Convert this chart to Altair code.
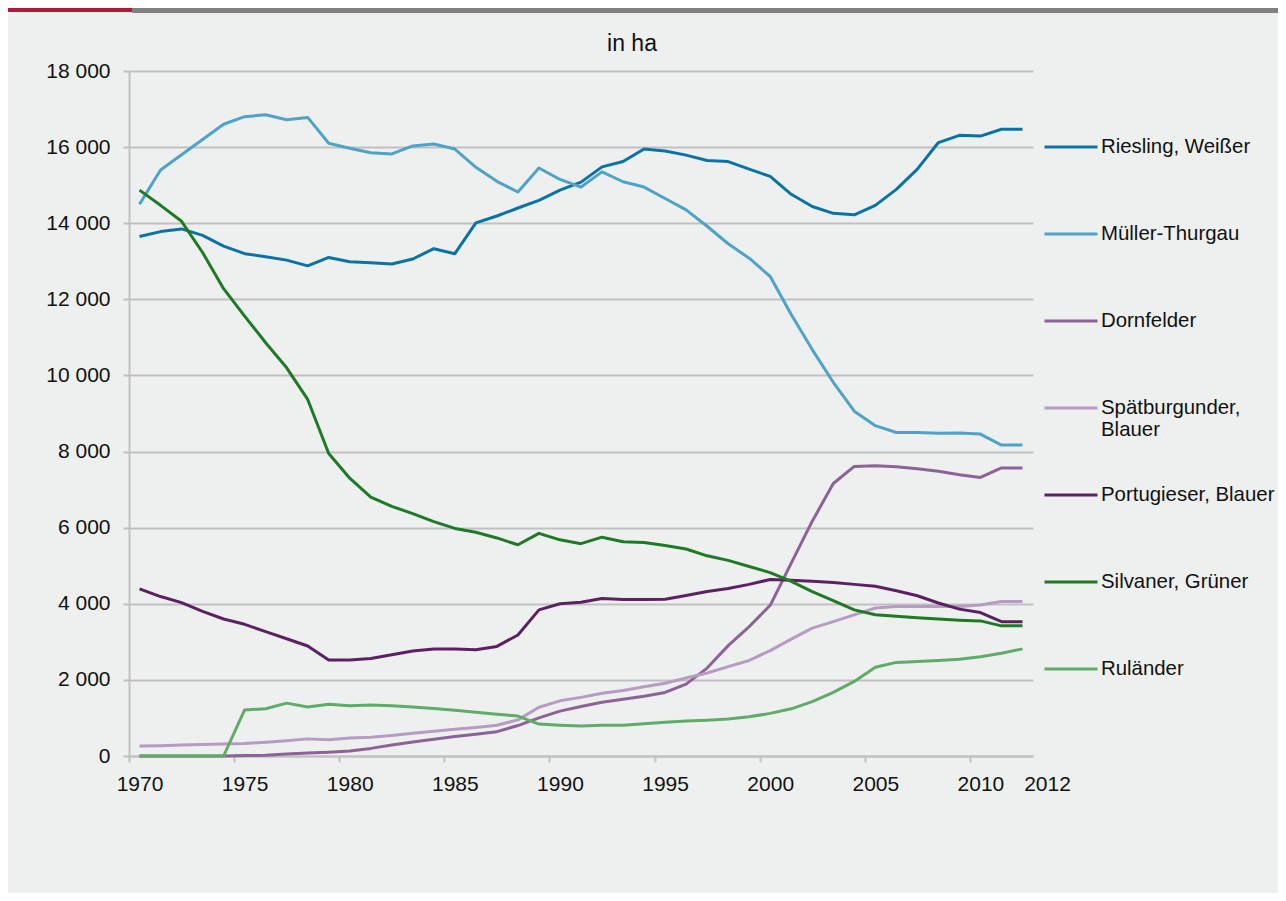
import altair as alt
import pandas as pd

years = list(range(1970, 2013))

series_names = [
    "Riesling, Weißer",
    "Müller-Thurgau",
    "Dornfelder",
    "Spätburgunder, Blauer",
    "Portugieser, Blauer",
    "Silvaner, Grüner",
    "Ruländer",
]
series_colors = ["#0a73a5", "#4fa3c7", "#8c6299", "#b89bc2", "#5b2163", "#1e7a25", "#5fab67"]

riesling = [13650, 13780, 13850, 13680, 13400, 13200, 13120, 13030, 12880, 13100,
            12990, 12960, 12930, 13060, 13330, 13200, 14010, 14190, 14400, 14600,
            14870, 15080, 15480, 15620, 15950, 15900, 15790, 15650, 15620, 15420,
            15230, 14760, 14440, 14260, 14220, 14470, 14890, 15420, 16120, 16310,
            16290, 16470, 16470]
muller = [14500, 15400, 15800, 16200, 16600, 16800, 16850, 16720, 16780, 16100,
          15970, 15850, 15820, 16030, 16080, 15950, 15470, 15100, 14820, 15450,
          15150, 14950, 15350, 15090, 14950, 14650, 14350, 13920, 13460, 13080,
          12600, 11600, 10680, 9820, 9060, 8680, 8500, 8500, 8480, 8490,
          8460, 8170, 8170]
dornfelder = [0, 0, 0, 0, 0, 10, 20, 50, 80, 100,
              130, 200, 290, 370, 440, 510, 570, 640, 800, 1000,
              1180, 1300, 1410, 1490, 1570, 1670, 1890, 2310, 2900, 3400,
              3960, 5070, 6170, 7160, 7610, 7630, 7600, 7550, 7480, 7390,
              7320, 7570, 7570]
spaetburgunder = [260, 270, 290, 300, 315, 330, 360, 400, 450, 430,
                  470, 490, 540, 600, 650, 700, 750, 810, 950, 1280,
                  1450, 1540, 1650, 1720, 1820, 1910, 2050, 2180, 2350, 2510,
                  2770, 3070, 3360, 3530, 3710, 3890, 3930, 3930, 3930, 3930,
                  3970, 4060, 4060]
portugieser = [4390, 4190, 4030, 3800, 3600, 3460, 3270, 3080, 2890, 2520,
               2520, 2560, 2660, 2760, 2810, 2810, 2790, 2880, 3180, 3840,
               4000, 4040, 4140, 4110, 4110, 4120, 4220, 4320, 4400, 4510,
               4640, 4620, 4590, 4560, 4510, 4460, 4340, 4210, 4020, 3860,
               3770, 3530, 3530]
silvaner = [14870, 14470, 14050, 13230, 12280, 11560, 10860, 10200, 9370, 7950,
            7300, 6800, 6560, 6370, 6160, 5980, 5880, 5730, 5550, 5850,
            5680, 5580, 5750, 5630, 5610, 5530, 5440, 5260, 5140, 4980,
            4820, 4590, 4320, 4080, 3840, 3710, 3670, 3630, 3600, 3570,
            3550, 3420, 3420]
rulaender = [0, 0, 0, 0, 0, 1210, 1240, 1390, 1290, 1360,
             1320, 1340, 1320, 1290, 1250, 1200, 1150, 1100, 1050, 840,
             810, 790, 810, 810, 850, 890, 920, 940, 970, 1030,
             1120, 1240, 1430, 1670, 1960, 2330, 2460, 2480, 2510, 2540,
             2610, 2700, 2815]

y_ticks = list(range(0, 18001, 2000))
x_tick_bounds = [1969.5 + 5 * i for i in range(9)] + [2012.5]
title_text = "in ha"

all_values = [riesling, muller, dornfelder, spaetburgunder, portugieser, silvaner, rulaender]
rows = []
for name, vals in zip(series_names, all_values):
    for yr, v in zip(years, vals):
        rows.append({"Jahr": yr, "Sorte": name, "ha": v})
df = pd.DataFrame(rows)

FONT = "Liberation Sans"
GRID = "#c0c0c0"

x_enc = alt.X(
    "Jahr:Q",
    scale=alt.Scale(domain=[1969.5, 2012.5], nice=False, zero=False),
    axis=alt.Axis(
        values=x_tick_bounds,
        title=None,
        grid=False,
        labelExpr="datum.value > 2012 ? '2012' : toString(datum.value + 0.5)",
        labelOffset={"condition": {"test": "datum.value > 2012", "value": 14}, "value": 10.5},
        tickColor={"condition": {"test": "datum.value > 2012", "value": "transparent"}, "value": GRID},
        labelFlush=False,
        labelOverlap=False,
        labelFont=FONT,
        labelFontSize=21,
        labelColor="#111111",
        labelPadding=11,
        tickSize=6,
        tickWidth=2,
        domainColor=GRID,
        domainWidth=2,
    ),
)
y_enc = alt.Y(
    "ha:Q",
    scale=alt.Scale(domain=[0, 18000], nice=False),
    axis=alt.Axis(
        values=y_ticks,
        title=None,
        grid=True,
        gridColor=GRID,
        gridWidth=2,
        labelExpr="replace(format(datum.value, ','), ',', ' ')",
        labelFont=FONT,
        labelFontSize=21,
        labelColor="#111111",
        labelPadding=13,
        tickSize=6,
        tickWidth=2,
        tickColor=GRID,
        domainColor=GRID,
        domainWidth=2,
    ),
)
color_enc = alt.Color(
    "Sorte:N",
    scale=alt.Scale(domain=series_names, range=series_colors),
    sort=series_names,
    title=None,
    legend=alt.Legend(
        orient="none",
        legendX=914,
        legendY=48,
        symbolType="stroke",
        symbolSize=2809,
        symbolStrokeWidth=3,
        labelFont=FONT,
        labelFontSize=20.4,
        labelColor="#111111",
        labelOffset=2,
        labelLimit=400,
        rowPadding=26,
        padding=0,
        labelExpr="datum.value == 'Spätburgunder, Blauer' ? ['Spätburgunder,', 'Blauer'] : [datum.value, '']",
    ),
)

layers = []
for name in series_names:
    layers.append(
        alt.Chart(df)
        .transform_filter(alt.datum.Sorte == name)
        .mark_line(strokeWidth=3, strokeJoin="round")
        .encode(x=x_enc, y=y_enc, color=color_enc)
    )

title_df = pd.DataFrame({"label": [title_text]})
title_layer = alt.Chart(title_df).mark_text(
    font=FONT, fontSize=23, color="#111111", baseline="alphabetic", align="center"
).encode(x=alt.value(503), y=alt.value(-20), text="label:N")

bar_df = pd.DataFrame({"part": ["red", "gray"]})
red_bar = alt.Chart(bar_df.iloc[[0]]).mark_rect(color="#b5173c").encode(
    x=alt.value(-121), x2=alt.value(3), y=alt.value(-63), y2=alt.value(-59)
)
gray_bar = alt.Chart(bar_df.iloc[[1]]).mark_rect(color="#808080").encode(
    x=alt.value(3), x2=alt.value(1149), y=alt.value(-63), y2=alt.value(-58)
)

chart = (
    alt.layer(*layers, title_layer, red_bar, gray_bar)
    .properties(
        width=904,
        height=685,
        autosize=alt.AutoSizeParams(type="none"),
        padding={"left": 121, "top": 63, "right": 245, "bottom": 137},
        background="#eef0ef",
    )
    .configure_view(stroke=None)
)

chart.save("out.html", embed_options={"renderer": "svg", "actions": False})
